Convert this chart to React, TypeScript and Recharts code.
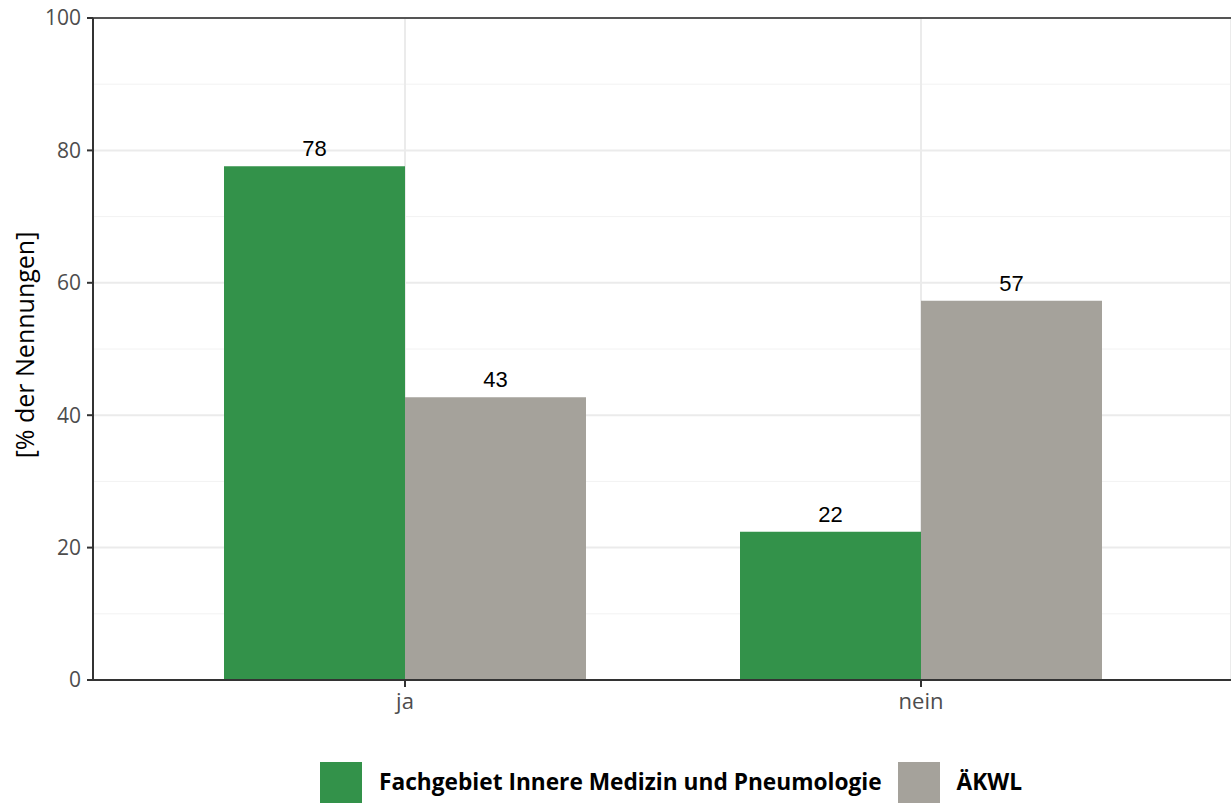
import { BarChart, Bar, XAxis, YAxis, CartesianGrid, LabelList, ReferenceLine } from 'recharts';

const categories = ['ja', 'nein'];
const fachgebiet = [77.6, 22.4];
const aekwl = [42.7, 57.3];
const seriesNames = ['Fachgebiet Innere Medizin und Pneumologie', 'ÄKWL'];
const seriesColors = ['#33924a', '#a5a29b'];
const yTicks = [0, 20, 40, 60, 80, 100];
const minorTicks = [10, 30, 50, 70, 90];

const data = categories.map((c, i) => ({ name: c, fach: fachgebiet[i], aekwl: aekwl[i] }));

const font = '"Open Sans", "Noto Sans", sans-serif';
const labelFont = '"Liberation Sans", Arial, sans-serif';

function LegendBox() {
  return (
    <div style={{ position: 'absolute', left: 320, top: 762, display: 'flex', alignItems: 'flex-start', fontFamily: font }}>
      {seriesNames.map((n, i) => (
        <div key={n} style={{ display: 'flex', alignItems: 'flex-start', marginRight: 16 }}>
          <div style={{ width: 42, height: 42, background: seriesColors[i], flex: 'none' }} />
          <span style={{ marginLeft: 17, marginTop: 4, fontSize: 22.7, fontWeight: 700, color: '#000', whiteSpace: 'nowrap' }}>{n}</span>
        </div>
      ))}
    </div>
  );
}

export default function App() {
  return (
    <div style={{ position: 'absolute', left: 0, top: 0, width: 1231, height: 803, overflow: 'hidden', background: '#fff' }}>
      <BarChart
        width={1231}
        height={803}
        data={data}
        margin={{ top: 18, right: 0, bottom: 83, left: 0 }}
        barCategoryGap={77}
        barGap={0}
      >
        <CartesianGrid stroke="#f2f2f2" strokeWidth={1} vertical={false} horizontalValues={minorTicks} />
        <CartesianGrid stroke="#ebebeb" strokeWidth={2} />
        <ReferenceLine y={100} stroke="#555" strokeWidth={2} />
        <XAxis
          dataKey="name"
          padding={{ left: 54, right: 52 }}
          height={40}
          axisLine={{ stroke: '#333', strokeWidth: 2 }}
          tickLine={{ stroke: '#333', strokeWidth: 2 }}
          tickSize={7}
          tickMargin={6}
          tick={{ fill: '#4d4d4d', fontSize: 22, fontFamily: font }}
        />
        <YAxis
          domain={[0, 100]}
          ticks={yTicks}
          width={93}
          axisLine={{ stroke: '#333', strokeWidth: 2 }}
          tickLine={{ stroke: '#333', strokeWidth: 2 }}
          tickSize={6}
          tickMargin={6}
          tick={{ fill: '#4d4d4d', fontSize: 21, fontFamily: font }}
          label={{
            content: ({ viewBox }: any) => {
              const x = viewBox.x + 24;
              const y = viewBox.y + viewBox.height / 2 - 4;
              return (
                <text x={x} y={y} transform={`rotate(-90, ${x}, ${y})`} textAnchor="middle" dominantBaseline="central" fill="#000" fontSize={25} fontFamily={font}>
                  [% der Nennungen]
                </text>
              );
            },
          }}
        />
        <Bar dataKey="fach" name={seriesNames[0]} fill={seriesColors[0]} isAnimationActive={false}>
          <LabelList dataKey="fach" position="top" offset={10} formatter={(v: any) => Math.round(Number(v))} fill="#000" fontSize={22} fontFamily={labelFont} />
        </Bar>
        <Bar dataKey="aekwl" name={seriesNames[1]} fill={seriesColors[1]} isAnimationActive={false}>
          <LabelList dataKey="aekwl" position="top" offset={10} formatter={(v: any) => Math.round(Number(v))} fill="#000" fontSize={22} fontFamily={labelFont} />
        </Bar>
      </BarChart>
      <LegendBox />
    </div>
  );
}
